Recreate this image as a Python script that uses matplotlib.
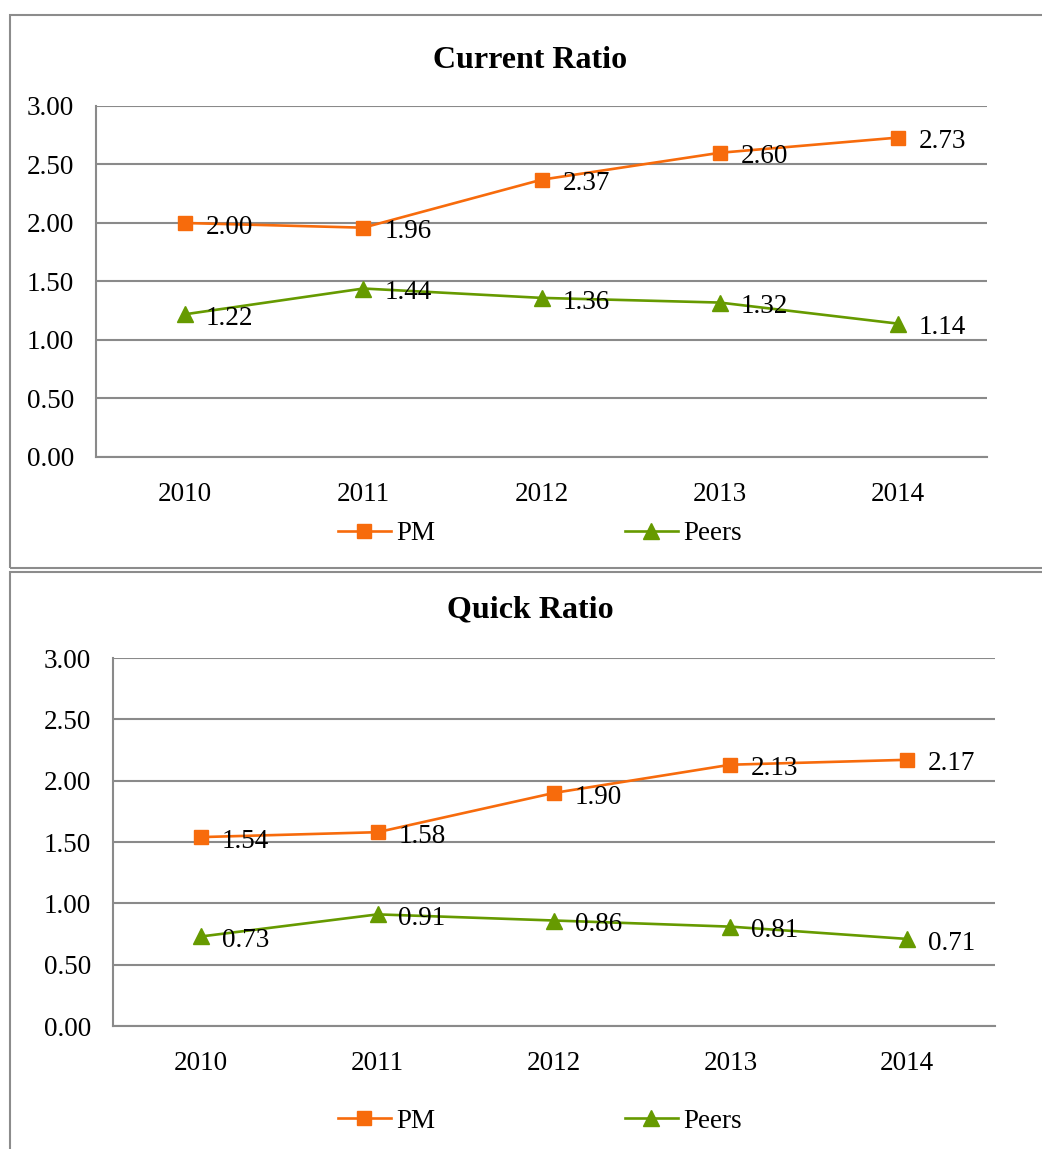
import matplotlib
matplotlib.use("Agg")
import matplotlib.pyplot as plt
from matplotlib.patches import Rectangle
from matplotlib.lines import Line2D

plt.rcParams['font.family'] = ['Liberation Serif', 'DejaVu Serif']

years = ['2010', '2011', '2012', '2013', '2014']
current_pm = [2.00, 1.96, 2.37, 2.60, 2.73]
current_peers = [1.22, 1.44, 1.36, 1.32, 1.14]
quick_pm = [1.54, 1.58, 1.90, 2.13, 2.17]
quick_peers = [0.73, 0.91, 0.86, 0.81, 0.71]
yticks = [0.0, 0.5, 1.0, 1.5, 2.0, 2.5, 3.0]

ORANGE = '#F76B0C'
GREEN = '#669A00'
GRID = '#8A8A8A'
FS = 19.5

W, H = 1042, 1149
fig = plt.figure(figsize=(W / 100, H / 100), dpi=100)


def px_axes(left, top, right, bottom):
    return fig.add_axes([left / W, 1 - bottom / H, (right - left) / W, (bottom - top) / H])


def draw_chart(ax, pm, peers, title, title_y, legend_y):
    x = list(range(len(years)))
    ax.plot(x, pm, color=ORANGE, lw=1.9, marker='s', ms=10.5, mfc=ORANGE, mec=ORANGE, zorder=3)
    ax.plot(x, peers, color=GREEN, lw=1.9, marker='^', ms=11.5, mfc=GREEN, mec=GREEN, zorder=3)
    for xi, v in zip(x, pm):
        ax.annotate(f'{v:.2f}', (xi, v), xytext=(15, -3), textcoords='offset points',
                    ha='left', va='center', fontsize=FS, zorder=4)
    for xi, v in zip(x, peers):
        ax.annotate(f'{v:.2f}', (xi, v), xytext=(15, -3), textcoords='offset points',
                    ha='left', va='center', fontsize=FS, zorder=4)
    ax.set_xlim(-0.5, len(years) - 0.5)
    ax.set_ylim(0, 3.0)
    ax.set_yticks(yticks)
    ax.set_yticklabels([f'{t:.2f}' for t in yticks])
    ax.set_xticks(x)
    ax.set_xticklabels(years)
    ax.tick_params(axis='both', length=0, labelsize=FS)
    ax.tick_params(axis='y', pad=16)
    ax.tick_params(axis='x', pad=18)
    ax.grid(axis='y', color=GRID, lw=1.5)
    ax.set_axisbelow(True)
    for s in ['top', 'right']:
        ax.spines[s].set_visible(False)
    for s in ['left', 'bottom']:
        ax.spines[s].set_color(GRID)
        ax.spines[s].set_linewidth(1.5)
    fig.text(0.509, 1 - title_y / H, title, ha='center', va='center',
             fontsize=23, fontweight='bold')
    handles = [Line2D([], [], color=ORANGE, lw=1.9, marker='s', ms=10.5),
               Line2D([], [], color=GREEN, lw=1.9, marker='^', ms=11.5)]
    fig.legend(handles, ['PM', 'Peers'], loc='center', ncol=2, frameon=False,
               bbox_to_anchor=(0.518, 1 - legend_y / H), fontsize=FS,
               handlelength=1.95, handletextpad=0.2, columnspacing=7.0)


ax1 = px_axes(96, 106, 987, 457)
draw_chart(ax1, current_pm, current_peers, 'Current Ratio', 60, 534)

ax2 = px_axes(113, 658, 995, 1026)
draw_chart(ax2, quick_pm, quick_peers, 'Quick Ratio', 610, 1121)

# chart borders
fig.patches.append(Rectangle((10 / W, 1 - 568 / H), 1.2, (568 - 15) / H, transform=fig.transFigure,
                             fill=False, edgecolor='#8C8C8C', lw=1.5, zorder=0))
fig.patches.append(Rectangle((10 / W, -0.1), 1.2, (1149 - 572) / H + 0.1, transform=fig.transFigure,
                             fill=False, edgecolor='#8C8C8C', lw=1.5, zorder=0))

fig.savefig('out.png', dpi=100)
